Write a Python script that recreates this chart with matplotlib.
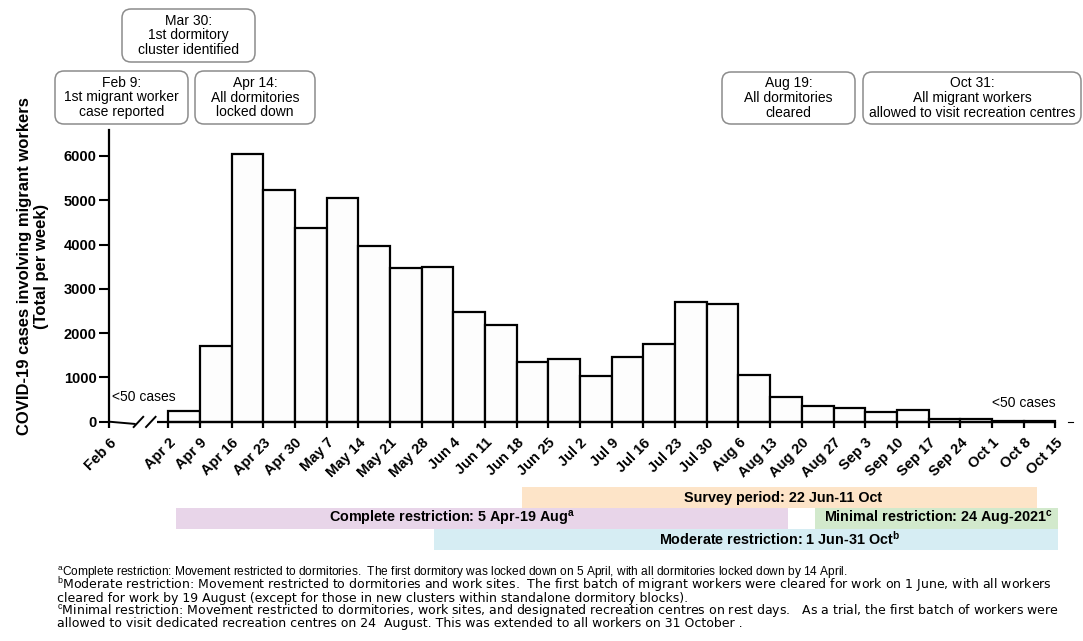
import matplotlib
matplotlib.use('Agg')
import matplotlib.pyplot as plt
from matplotlib.patches import FancyBboxPatch

plt.rcParams['font.family'] = ['Liberation Sans', 'DejaVu Sans']
plt.rcParams['mathtext.fontset'] = 'custom'
plt.rcParams['mathtext.rm'] = 'Liberation Sans'
plt.rcParams['mathtext.bf'] = 'Liberation Sans:bold'

# === DATA ===
# weekly cases, one bar per week starting Apr 2 ... Oct 8
cases = [250, 1710, 6050, 5230, 4380, 5060, 3970, 3470, 3490, 2470,
         2180, 1340, 1420, 1030, 1450, 1750, 2700, 2660, 1060, 550,
         355, 320, 225, 265, 70, 50, 15, 5]
tick_labels = ['Feb 6', 'Apr 2', 'Apr 9', 'Apr 16', 'Apr 23', 'Apr 30', 'May 7',
               'May 14', 'May 21', 'May 28', 'Jun 4', 'Jun 11', 'Jun 18',
               'Jun 25', 'Jul 2', 'Jul 9', 'Jul 16', 'Jul 23', 'Jul 30', 'Aug 6',
               'Aug 13', 'Aug 20', 'Aug 27', 'Sep 3', 'Sep 10', 'Sep 17',
               'Sep 24', 'Oct 1', 'Oct 8', 'Oct 15']

# restriction / survey periods (in weeks after Apr 2)
band_labels = ['Survey period: 22 Jun-11 Oct',
               r'Complete restriction: 5 Apr-19 Aug$^{\mathbf{a}}$',
               r'Minimal restriction: 24 Aug-2021$^{\mathbf{c}}$',
               r'Moderate restriction: 1 Jun-31 Oct$^{\mathbf{b}}$']
band_start = [11.17, 0.24, 20.42, 8.40]
band_end = [27.43, 19.57, 28.10, 28.10]

events = ['Mar 30:\n1st dormitory\ncluster identified',
          'Feb 9:\n1st migrant worker\ncase reported',
          'Apr 14:\nAll dormitories\nlocked down',
          'Aug 19:\nAll dormitories\ncleared',
          'Oct 31:\nAll migrant workers\nallowed to visit recreation centres']

footnotes = [
    r'$^{\mathrm{a}}$Complete restriction: Movement restricted to dormitories.  The first dormitory was locked down on 5 April, with all dormitories locked down by 14 April.',
    r'$^{\mathrm{b}}$Moderate restriction: Movement restricted to dormitories and work sites.  The first batch of migrant workers were cleared for work on 1 June, with all workers',
    'cleared for work by 19 August (except for those in new clusters within standalone dormitory blocks).',
    r'$^{\mathrm{c}}$Minimal restriction: Movement restricted to dormitories, work sites, and designated recreation centres on rest days.   As a trial, the first batch of workers were',
    'allowed to visit dedicated recreation centres on 24  August. This was extended to all workers on 31 October .',
]

# === LAYOUT ===
W, H = 1083, 641
FEB6 = -1.86   # Feb 6 sits before the axis break

def fx(px):
    return px / W

def fy(py):
    return 1 - py / H

fig = plt.figure(figsize=(W / 100, H / 100), dpi=100)

ax = fig.add_axes([fx(109.3), fy(421.7), (1055.3 - 109.3) / W, (421.7 - 130) / H])
ax.set_xlim(FEB6, 28)
ax.set_ylim(0, 6585)

ax.bar(range(len(cases)), cases, width=1, align='edge', facecolor='#fdfdfd',
       edgecolor='black', linewidth=1.6, clip_on=False, zorder=3)

# broken x axis
ax.plot([-0.36, 28], [0, 0], color='black', lw=1.6, clip_on=False, zorder=4,
        solid_capstyle='butt')
ax.plot([FEB6, -1.06], [0, -50], color='black', lw=1.4, clip_on=False, zorder=4)
for bx in (-0.94, -0.55):
    ax.plot([bx - 0.15, bx + 0.15], [-120, 110], color='black', lw=1.4,
            clip_on=False, zorder=4)
ax.plot([28.4, 28.55], [0, 0], color='black', lw=0.8, clip_on=False)

ax.set_xticks([FEB6] + list(range(29)))
ax.set_xticklabels(tick_labels, rotation=45, ha='right', rotation_mode='anchor',
                   fontweight='bold', fontsize=10.5)
ax.set_yticks(range(0, 7000, 1000))
ax.set_yticklabels([str(v) for v in range(0, 7000, 1000)], fontweight='bold', fontsize=10.5)
ax.tick_params(axis='x', length=4, width=1.6, pad=6)
ax.tick_params(axis='y', length=7, width=1.5, pad=2)
for s in ['top', 'right', 'bottom']:
    ax.spines[s].set_visible(False)
ax.spines['left'].set_linewidth(1.6)
ax.patch.set_visible(False)

ax.text(-1.78, 560, '<50 cases', fontsize=10, ha='left', va='center')
ax.text(28, 420, '<50 cases', fontsize=10, ha='right', va='center')

fig.text(fx(33), fy(266), 'COVID-19 cases involving migrant workers\n(Total per week)',
         rotation=90, ha='center', va='center', fontweight='bold', fontsize=12,
         multialignment='center', linespacing=1.15)

# period bands
axb = fig.add_axes([fx(109.3), fy(549.5), (1055.3 - 109.3) / W, (549.5 - 487.5) / H])
axb.set_xlim(FEB6, 28)
axb.set_ylim(0, 3)
axb.axis('off')
band_rows = [2, 1, 1, 0]
band_colors = ['#fde4c8', '#e8d5e9', '#d2e9cc', '#d6edf3']
band_text_x = [19.4, 8.94, 24.3, 19.3]
for lab, s, e, r, c, tx in zip(band_labels, band_start, band_end, band_rows,
                                band_colors, band_text_x):
    axb.barh(r + 0.5, e - s, left=s, height=1, color=c, clip_on=False)
    axb.text(tx, r + 0.5, lab, ha='center', va='center', fontweight='bold', fontsize=10.4)

# event boxes and footnotes in pixel coordinates
ov = fig.add_axes([0, 0, 1, 1])
ov.set_xlim(0, W)
ov.set_ylim(H, 0)
ov.axis('off')
boxes = [(122, 9, 255, 62), (55, 71, 188, 124), (195, 71, 315, 124),
         (722, 72, 855, 124), (863, 72, 1081, 124)]
for txt, (x0, y0, x1, y1) in zip(events, boxes):
    ov.add_patch(FancyBboxPatch((x0, y0), x1 - x0, y1 - y0,
                                boxstyle='round,pad=0,rounding_size=9',
                                facecolor='white', edgecolor='#8c8c8c', lw=1.1))
    ov.text((x0 + x1) / 2, (y0 + y1) / 2, txt, ha='center', va='center',
            fontsize=10, linespacing=1.05, multialignment='center')

# first footnote line is set narrower in the original; the rest is wide and short
for i, line in enumerate(footnotes):
    if i == 0:
        ov.text(57, 573, line, ha='left', va='center', fontsize=8.6)
    else:
        ov.text(57, 573 + i * 12.6, line, ha='left', va='center', fontsize=9,
                family=['DejaVu Sans'])

fig.savefig('out.png', dpi=100)
